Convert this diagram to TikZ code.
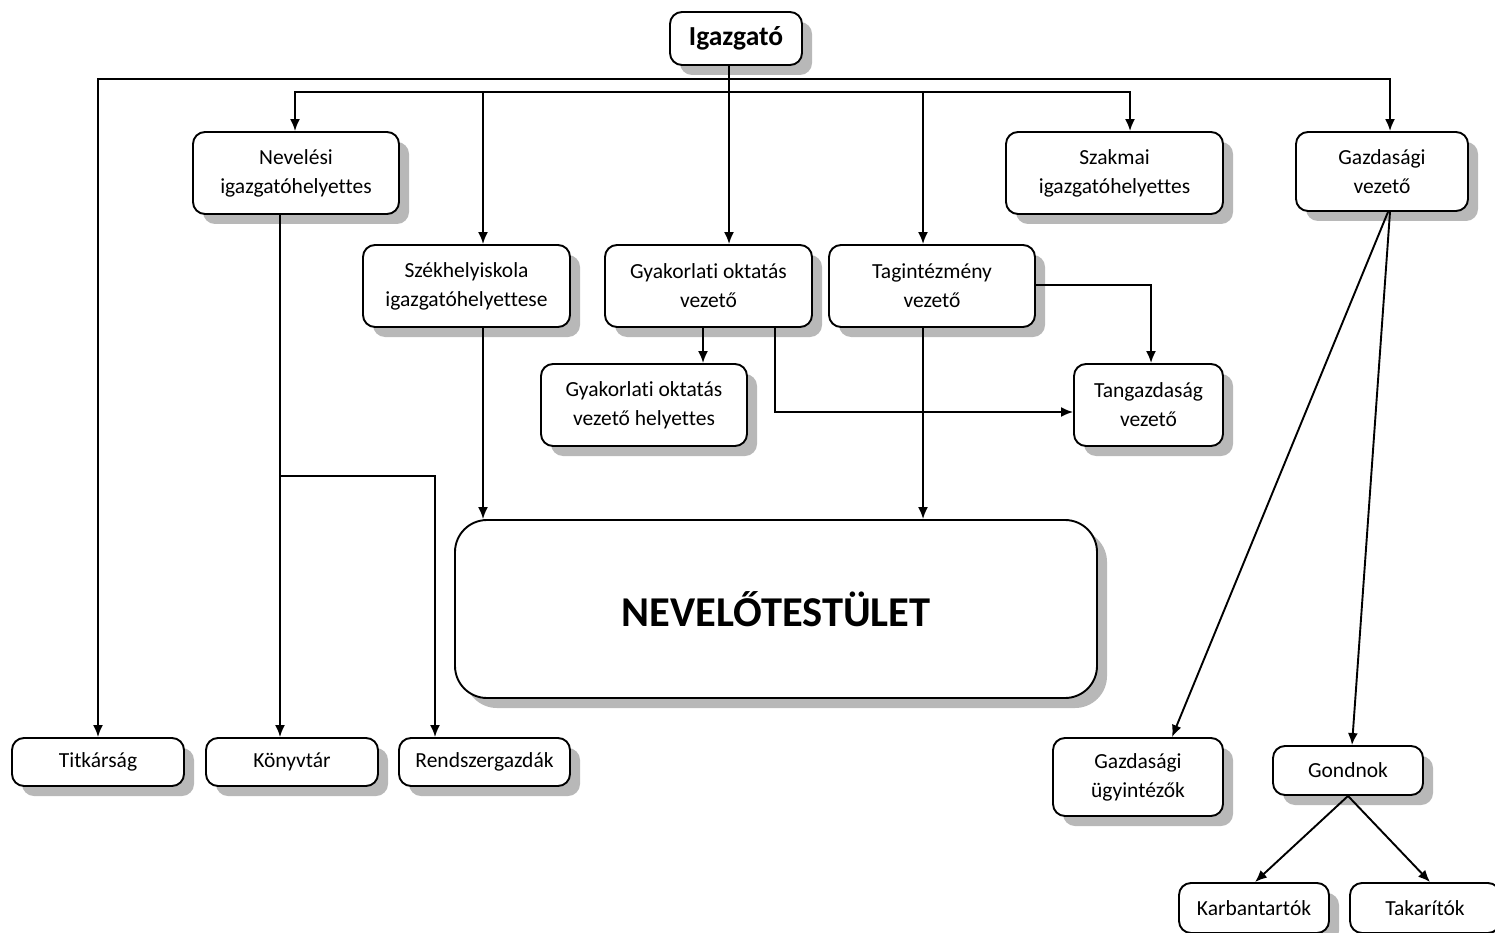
\documentclass[tikz,border=0pt]{standalone}
\usepackage{fontspec}
\setmainfont{Carlito}[Ligatures={NoCommon}]
\usetikzlibrary{arrows.meta,shadows}
\begin{document}
\begin{tikzpicture}[x=1pt,y=-1pt,
  box/.style={draw=black, line width=1.9pt, fill=white, rounded corners=12pt,
    inner sep=0pt, align=center, font=\fontsize{21.5}{29}\selectfont,
    drop shadow={shadow xshift=10pt, shadow yshift=-10pt, fill=black!28, opacity=1}},
  arr/.style={line width=1.9pt, -{Latex[length=12pt,width=10pt]}},
  ln/.style={line width=1.9pt}]
\clip (0,0) rectangle (1495,933);
\fill[white] (0,0) rectangle (1495,933);

% nodes
\node[box, minimum width=132pt, minimum height=53pt, font=\fontsize{27.5}{29}\bfseries\selectfont] (igaz) at (736,38.5) {Igazgató};
\node[box, minimum width=206pt, minimum height=82pt] (nev) at (296,173) {Nevelési\\igazgatóhelyettes};
\node[box, minimum width=207pt, minimum height=82pt] (szek) at (466.5,286) {Székhelyiskola\\igazgatóhelyettese};
\node[box, minimum width=207pt, minimum height=82pt] (gyak) at (708.5,286) {Gyakorlati oktatás\\vezető};
\node[box, minimum width=206pt, minimum height=82pt] (tag) at (932,286) {Tagintézmény\\vezető};
\node[box, minimum width=217pt, minimum height=82pt] (szak) at (1114.5,173) {Szakmai\\igazgatóhelyettes};
\node[box, minimum width=172pt, minimum height=79pt] (gazd) at (1382,171.5) {Gazdasági\\vezető};
\node[box, minimum width=206pt, minimum height=82pt] (gyakh) at (644,405) {Gyakorlati oktatás\\vezető helyettes};
\node[box, minimum width=149pt, minimum height=82pt] (tang) at (1148.5,405) {Tangazdaság\\vezető};
\node[box, minimum width=642pt, minimum height=178pt, rounded corners=32pt, font=\fontsize{42.5}{48}\bfseries\selectfont] (nt) at (776,609) {NEVELŐTESTÜLET};
\node[box, minimum width=172pt, minimum height=48pt] (tit) at (98,762) {Titkárság};
\node[box, minimum width=172pt, minimum height=48pt] (kony) at (292,762) {Könyvtár};
\node[box, minimum width=171pt, minimum height=48pt] (rend) at (484.5,762) {Rendszergazdák};
\node[box, minimum width=170pt, minimum height=78pt] (gu) at (1138,777) {Gazdasági\\ügyintézők};
\node[box, minimum width=150pt, minimum height=49pt] (gond) at (1348,770.5) {Gondnok};
\node[box, minimum width=150pt, minimum height=50pt] (karb) at (1254,908) {Karbantartók};
\node[box, minimum width=150pt, minimum height=50pt] (tak) at (1425,908) {Takarítók};

% connectors from Igazgató
\coordinate (bus1) at (729,79);
\coordinate (bus2) at (729,92);
\draw[arr] (igaz.south -| bus1) -- (gyak.north -| bus1);
\draw[arr] (bus1) -| (tit.north);
\draw[arr] (bus1) -| (gazd.north -| 1390,0);
\draw[arr] (bus2) -| (nev.north -| 295,0);
\draw[arr] (bus2) -| (szek.north -| 483,0);
\draw[arr] (bus2) -| (tag.north -| 923,0);
\draw[arr] (bus2) -| (szak.north -| 1130,0);

% Nevelési
\coordinate (nb) at (280,476);
\draw[arr] (nev.south -| nb) -- (kony.north -| nb);
\draw[arr] (nb) -| (rend.north -| 435,0);

% Székhely, Tagintézmény -> Nevelőtestület
\draw[arr] (szek.south -| 483,0) -- (nt.north -| 483,0);
\draw[arr] (tag.south -| 923,0) -- (nt.north -| 923,0);

% Gyakorlati
\draw[arr] (gyak.south -| 703,0) -- (gyakh.north -| 703,0);
\draw[arr] (gyak.south -| 775,0) |- (tang.west |- 0,412);
\draw[arr] (tag.east |- 0,285) -| (tang.north -| 1151,0);

% Gazdasági
\draw[arr] (gazd.south -| 1388,0) -- (gu.north -| 1172,0);
\draw[arr] (gazd.south -| 1390,0) -- (gond.north -| 1352,0);
\draw[arr] (gond.south) -- (karb.north -| 1255,0);
\draw[arr] (gond.south) -- (tak.north -| 1430,0);
\end{tikzpicture}
\end{document}
